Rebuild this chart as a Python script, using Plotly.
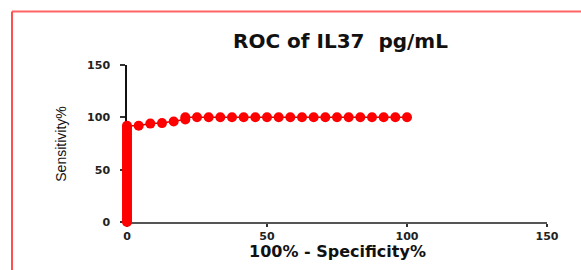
import plotly.graph_objects as go

# ROC points
fpr = [0, 0, 0, 0, 0, 0, 0, 0, 0, 0, 0, 0, 0, 0, 0, 0, 0, 0, 0, 0, 0, 0, 0,
       0, 0, 0, 0, 0, 0, 0, 0, 0, 0, 0, 0, 0, 0, 0, 0, 0, 0, 0, 0, 0, 0, 0, 0,
       4.17, 8.33, 12.5, 16.67, 20.83, 20.83, 25.0, 29.17, 33.33, 37.5, 41.67,
       45.83, 50.0, 54.17, 58.33, 62.5, 66.67, 70.83, 75.0, 79.17, 83.33, 87.5,
       91.67, 95.83, 100.0]
tpr = [0, 2, 4, 6, 8, 10, 12, 14, 16, 18, 20, 22, 24, 26, 28, 30, 32, 34, 36,
       38, 40, 42, 44, 46, 48, 50, 52, 54, 56, 58, 60, 62, 64, 66, 68, 70, 72,
       74, 76, 78, 80, 82, 84, 86, 88, 90, 92,
       92, 94, 94.5, 96, 98, 100, 100, 100, 100, 100, 100,
       100, 100, 100, 100, 100, 100, 100, 100, 100, 100, 100,
       100, 100, 100]

tick_vals = [0, 50, 100, 150]
tick_text = ["0", "50", "100", "150"]

title_text = "ROC of IL37  pg/mL"
x_title = "100% - Specificity%"
y_title = "Sensitivity%"

W, H = 581, 270
L, R, T, B = 127, 34, 65, 47.5
pw = W - L - R
ph = H - T - B

def px(xp):
    return (xp - L) / pw

def py(yp):
    return (H - B - yp) / ph

fig = go.Figure()
fig.add_trace(go.Scatter(
    x=fpr, y=tpr, mode="lines+markers",
    line=dict(color="#c80000", width=1.5),
    marker=dict(color="#ff0000", size=10, line=dict(width=0)),
    cliponaxis=False, showlegend=False,
))

axis_font = dict(family="DejaVu Sans", size=11, color="#222222", weight="bold")

fig.update_layout(
    width=W, height=H,
    margin=dict(l=L, r=R, t=T, b=B, pad=0),
    paper_bgcolor="white", plot_bgcolor="white",
    xaxis=dict(range=[0, 150], tickvals=tick_vals, ticktext=tick_text,
               showgrid=False, zeroline=False, showline=True,
               linecolor="#555555", linewidth=2, ticks="outside",
               ticklen=3, tickwidth=2, tickcolor="#333333",
               ticklabelstandoff=0,
               tickfont=axis_font, fixedrange=True, layer="below traces"),
    yaxis=dict(range=[0, 150], tickvals=tick_vals, ticktext=tick_text,
               showgrid=False, zeroline=False, showline=True,
               linecolor="#111111", linewidth=1.5, ticks="outside",
               ticklen=5, tickwidth=1.5, tickcolor="#333333",
               ticklabelstandoff=8,
               tickfont=axis_font, fixedrange=True, layer="below traces"),
    annotations=[
        dict(text=title_text, xref="paper", yref="paper",
             x=px(340), y=py(41), xanchor="center", yanchor="middle",
             showarrow=False,
             font=dict(family="DejaVu Sans", size=20, color="#111111", weight="bold")),
        dict(text=x_title, xref="paper", yref="paper",
             x=px(337), y=py(252), xanchor="center", yanchor="middle",
             showarrow=False,
             font=dict(family="DejaVu Sans", size=16, color="#111111", weight="bold")),
        dict(text=y_title, xref="paper", yref="paper",
             x=px(61), y=py(145), xanchor="center", yanchor="middle",
             textangle=-90, showarrow=False,
             font=dict(family="Liberation Sans", size=14, color="#111111")),
    ],
    shapes=[
        dict(type="line", xref="paper", yref="paper",
             x0=px(12), x1=px(600), y0=py(11.3), y1=py(11.3),
             line=dict(color="#ff6464", width=2)),
        dict(type="line", xref="paper", yref="paper",
             x0=px(12), x1=px(12), y0=py(11.3), y1=py(290),
             line=dict(color="#ff5050", width=2)),
    ],
)

fig.write_html("out.html",
               config={"displayModeBar": False},
               post_script="document.body.style.margin='0';document.body.style.overflow='hidden';")
